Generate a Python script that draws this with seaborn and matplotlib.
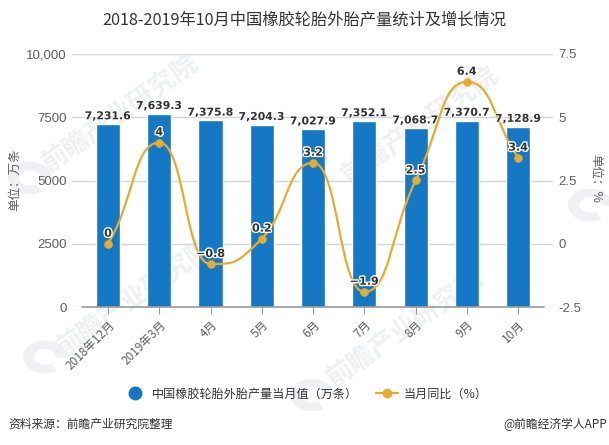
import numpy as np
import pandas as pd
import seaborn as sns
from matplotlib import pyplot as plt
from matplotlib import patheffects
from matplotlib.lines import Line2D
from matplotlib.path import Path
from matplotlib.patches import PathPatch, Wedge

months = ['2018年12月', '2019年3月', '4月', '5月', '6月', '7月', '8月', '9月', '10月']
output = [7231.6, 7639.3, 7375.8, 7204.3, 7027.9, 7352.1, 7068.7, 7370.7, 7128.9]
growth = [0, 4, -0.8, 0.2, 3.2, -1.9, 2.5, 6.4, 3.4]
left_ticks = [0, 2500, 5000, 7500, 10000]
left_labels = ['0', '2500', '5000', '7500', '10,000']
right_ticks = [-2.5, 0, 2.5, 5, 7.5]
right_labels = ['-2.5', '0', '2.5', '5', '7.5']

BLUE = '#1478c4'
GOLD = '#e6ac2e'
GREY = '#5f5f5f'

sns.set_theme(style='white')
plt.rcParams['font.family'] = ['Noto Sans CJK SC', 'DejaVu Sans']
plt.rcParams['axes.unicode_minus'] = False

W, H = 609, 445


def smooth_path(xs, ys):
    # bezier through the points, flat at the peaks and dips
    xs = np.array(xs, dtype=float)
    ys = np.array(ys, dtype=float)
    slopes = np.zeros(len(xs))
    for i in range(1, len(xs) - 1):
        if (ys[i] - ys[i - 1]) * (ys[i + 1] - ys[i]) > 0:
            slopes[i] = (ys[i + 1] - ys[i - 1]) / 2
    slopes[0] = (ys[1] - ys[0]) * 0.8
    slopes[-1] = (ys[-1] - ys[-2]) * 1.0
    verts = [(xs[0], ys[0])]
    codes = [Path.MOVETO]
    for i in range(len(xs) - 1):
        verts.append((xs[i] + 0.5, ys[i] + slopes[i] * 0.5))
        verts.append((xs[i + 1] - 0.5, ys[i + 1] - slopes[i + 1] * 0.5))
        verts.append((xs[i + 1], ys[i + 1]))
        codes += [Path.CURVE4] * 3
    return Path(verts, codes)


fig = plt.figure(figsize=(W / 100, H / 100), dpi=100)
ax = fig.add_axes([72 / W, 1 - 307 / H, (553 - 72) / W, (307 - 54) / H])

# watermarks sit behind everything
for x, y, size in [(120, 113, 19), (135, 297, 19), (420, 125, 19), (405, 328, 19)]:
    fig.text(x / W, 1 - y / H, '前瞻产业研究院', fontsize=size, color='#eef0f3', rotation=35,
             ha='center', va='center', fontweight='bold', zorder=-1)
for cx, cy in [(30, 178), (45, 357), (312, 395), (590, 205)]:
    fig.add_artist(Wedge((cx / W, 1 - cy / H), 0.035, 0, 300, width=0.016, color='#eef0f3', zorder=-1,
                         transform=fig.transFigure))

df = pd.DataFrame({'month': months, 'output': output})
sns.barplot(data=df, x='month', y='output', color=BLUE, saturation=1, width=0.47, ax=ax, zorder=2)

ax.patch.set_alpha(0)
ax.set_xlim(-0.702, 8.68)
ax.set_ylim(0, 10000)
ax.set_yticks(left_ticks)
ax.set_yticklabels(left_labels, fontsize=9.5, color=GREY, family='Liberation Sans')
ax.set_xticks(range(len(months)))
ax.set_xticklabels(months, rotation=45, ha='right', rotation_mode='anchor', fontsize=8.5, color=GREY)
ax.tick_params(axis='x', length=5, width=0.8, color='#999999', pad=3, bottom=True)
ax.tick_params(axis='y', length=0, pad=4)
ax.set_xlabel('')
ax.set_ylabel('')
ax.yaxis.grid(True, color='#d6d6d6', linewidth=1)
ax.set_axisbelow(True)
sns.despine(ax=ax, left=True, right=True, top=True, bottom=True)
ax.plot([-0.5, 8.5], [0, 0], color='#9a9a9a', linewidth=1.2, clip_on=False, zorder=3)

ax2 = ax.twinx()
ax2.set_ylim(-2.5, 7.5)
ax2.set_yticks(right_ticks)
ax2.set_yticklabels(right_labels, fontsize=9.5, color=GREY, family='Liberation Sans')
ax2.tick_params(axis='y', length=0, pad=4)
ax2.grid(False)
sns.despine(ax=ax2, left=True, right=True, top=True, bottom=True)

xs = np.arange(len(months))
ax2.add_patch(PathPatch(smooth_path(xs, growth), fill=False, edgecolor=GOLD, linewidth=1.6, zorder=4))
sns.scatterplot(x=xs, y=growth, color=GOLD, s=32, edgecolor=GOLD, ax=ax2, zorder=5, clip_on=False)
ax2.set_xlim(-0.702, 8.68)

# labels go on the top axes so the line does not cover them
to_right = ax.transData + ax2.transData.inverted()
for i, v in enumerate(output):
    _, y_top = to_right.transform((i, v + 110))
    ax2.text(i, y_top, f'{v:,.1f}', ha='center', va='bottom', fontsize=7.8, fontweight='bold',
             family='DejaVu Sans', color='#333333', zorder=6,
             path_effects=[patheffects.withStroke(linewidth=1.2, foreground='white')])

for i, v in enumerate(growth):
    txt = f'{v:g}'.replace('-', '−')
    ax2.text(i, v + 0.2, txt, ha='center', va='bottom', fontsize=8, fontweight='bold',
             family='DejaVu Sans', color='#333333', zorder=6,
             path_effects=[patheffects.withStroke(linewidth=2, foreground='white')])

fig.text(304 / W, 1 - 20 / H, '2018-2019年10月中国橡胶轮胎外胎产量统计及增长情况', ha='center', va='center',
         fontsize=11.7, color='#333333')
fig.text(15 / W, 1 - 180 / H, '单位：万条', rotation=90, ha='center', va='center', fontsize=9, color=GREY)
fig.text(596 / W, 1 - 178 / H, '单位：%', rotation=270, ha='center', va='center', fontsize=9, color=GREY)

handles = [
    Line2D([], [], linestyle='none', marker='o', markersize=9, color=BLUE),
    Line2D([], [], color=GOLD, linewidth=1.6, marker='o', markersize=6),
]
fig.legend(handles, ['中国橡胶轮胎外胎产量当月值（万条）', '当月同比（%）'], loc='center',
           bbox_to_anchor=(306 / W, 1 - 394 / H), ncol=2, frameon=False,
           prop={'size': 8.7, 'weight': 'medium', 'family': ['Noto Sans CJK SC', 'DejaVu Sans']},
           handlelength=1.8, columnspacing=1.5, handletextpad=0.5, labelcolor='#333333')

fig.text(8 / W, 1 - 424 / H, '资料来源：前瞻产业研究院整理', ha='left', va='center', fontsize=8.5, color='#333333')
fig.text(607 / W, 1 - 424 / H, '@前瞻经济学人APP', ha='right', va='center', fontsize=8.5, color='#333333')

fig.savefig('out.png', dpi=100)
